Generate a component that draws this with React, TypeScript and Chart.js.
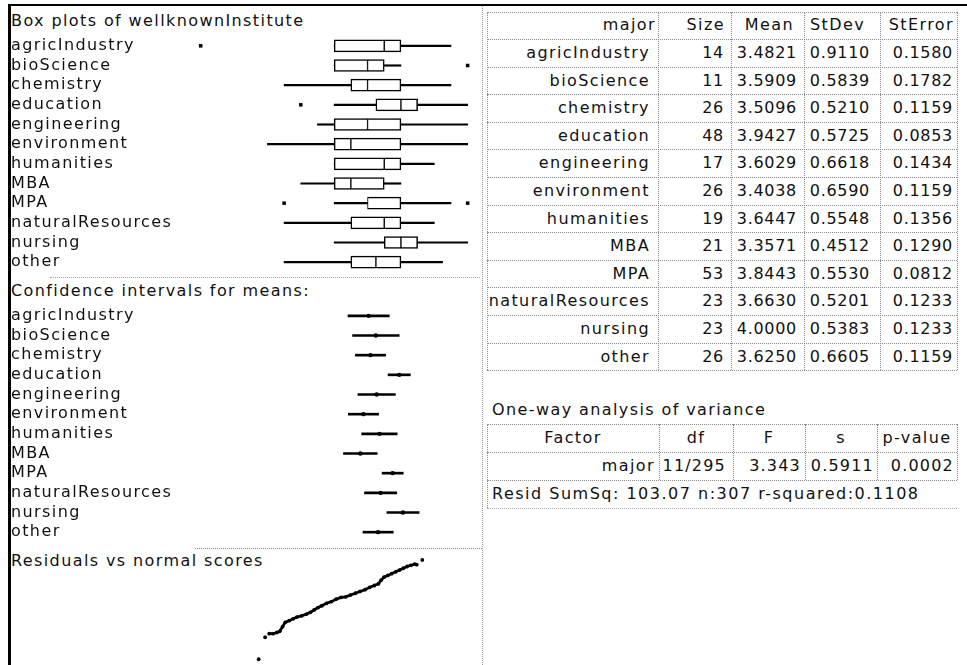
import React, { useEffect, useRef } from "react";
import { Chart, registerables } from "chart.js";

Chart.register(...registerables);

// ---------- data ----------
const categories = [
  "agricIndustry", "bioScience", "chemistry", "education", "engineering", "environment",
  "humanities", "MBA", "MPA", "naturalResources", "nursing", "other",
];

// box plots (GPA scale)
const boxMin = [3.2, 3.2, 2.9, 3.2, 3.1, 2.8, 3.2, 3.0, 3.2, 2.9, 3.2, 2.9];
const boxQ1 = [3.2, 3.2, 3.3, 3.45, 3.2, 3.2, 3.2, 3.2, 3.4, 3.3, 3.5, 3.3];
const boxMedian = [3.5, 3.4, 3.4, 3.6, 3.4, 3.3, 3.5, 3.3, 3.4, 3.5, 3.6, 3.45];
const boxQ3 = [3.6, 3.5, 3.6, 3.7, 3.6, 3.6, 3.6, 3.5, 3.6, 3.6, 3.7, 3.6];
const boxMax = [3.9, 3.6, 3.9, 4.0, 4.0, 4.0, 3.8, 3.6, 3.9, 3.8, 4.0, 3.85];
const outlierCategory = ["agricIndustry", "bioScience", "education", "MPA", "MPA"];
const outlierValue = [2.4, 4.0, 3.0, 2.9, 4.0];

// summary table
const sizes = [14, 11, 26, 48, 17, 26, 19, 21, 53, 23, 23, 26];
const means = [3.4821, 3.5909, 3.5096, 3.9427, 3.6029, 3.4038, 3.6447, 3.3571, 3.8443, 3.663, 4.0, 3.625];
const stDevs = [0.911, 0.5839, 0.521, 0.5725, 0.6618, 0.659, 0.5548, 0.4512, 0.553, 0.5201, 0.5383, 0.6605];
const stErrors = [0.158, 0.1782, 0.1159, 0.0853, 0.1434, 0.1159, 0.1356, 0.129, 0.0812, 0.1233, 0.1233, 0.1159];

// confidence intervals for means
const ciLow = [3.171, 3.240, 3.282, 3.775, 3.321, 3.176, 3.378, 3.103, 3.685, 3.420, 3.757, 3.397];
const ciHigh = [3.793, 3.942, 3.738, 4.111, 3.885, 3.632, 3.912, 3.611, 4.004, 3.906, 4.243, 3.853];

// residuals vs normal scores
const normalScores = [
  -2.8, -2.58, -2.44, -2.31, -2.18, -2.08, -1.98, -1.89, -1.75, -1.62, -1.49, -1.33, -1.16, -1.03,
  -0.9, -0.77, -0.64, -0.48, -0.31, -0.15, 0.02, 0.18, 0.34, 0.51, 0.67, 0.84, 1.0, 1.16, 1.3,
  1.39, 1.49, 1.62, 1.75, 1.89, 2.02, 2.15, 2.28, 2.41, 2.54, 2.61, 2.8,
];
const residuals = [
  -1.07, -0.7, -0.64, -0.64, -0.62, -0.6, -0.52, -0.45, -0.42, -0.39, -0.36, -0.34, -0.31, -0.28,
  -0.24, -0.2, -0.17, -0.13, -0.1, -0.06, -0.03, -0.02, 0.01, 0.04, 0.07, 0.1, 0.14, 0.17, 0.2,
  0.26, 0.31, 0.34, 0.37, 0.4, 0.43, 0.46, 0.49, 0.51, 0.53, 0.52, 0.6,
];

// ANOVA
const anovaHeaders = ["Factor", "df", "F", "s", "p-value"];
const anovaRow = ["major", "11/295", "3.343", "0.5911", "0.0002"];
const residLine = "Resid SumSq: 103.07 n:307 r-squared:0.1108";
const tableHeaders = ["major", "Size", "Mean", "StDev", "StError"];

// ---------- styling ----------
const FONT = '"DejaVu Sans", sans-serif';
const INK = "#111";

const spacingPlugin = {
  id: "letterSpacing",
  beforeDraw(chart: any) {
    try {
      chart.ctx.letterSpacing = "1.4px";
    } catch (e) {}
  },
};

function categoryOptions(min: number, max: number): any {
  return {
    indexAxis: "y",
    responsive: false,
    animation: false,
    events: [],
    layout: { padding: { left: 11, right: 0, top: 0, bottom: 0 } },
    plugins: { legend: { display: false }, tooltip: { enabled: false }, title: { display: false } },
    scales: {
      x: { type: "linear", min, max, display: false },
      y: {
        type: "category",
        offset: true,
        grid: { display: false, drawTicks: false },
        border: { display: false },
        ticks: {
          crossAlign: "far",
          padding: 0,
          autoSkip: false,
          color: INK,
          font: { family: "DejaVu Sans", size: 16 },
        },
        afterFit(scale: any) {
          scale.width = 173;
          scale.paddingTop = 0;
          scale.paddingBottom = 0;
        },
      },
    },
  };
}

function boxConfig(): any {
  const bar = (data: any, extra: any) => ({
    type: "bar",
    data,
    grouped: false,
    borderSkipped: false,
    ...extra,
  });
  return {
    type: "bar",
    data: {
      labels: categories,
      datasets: [
        bar(categories.map((_, i) => [boxMin[i], boxQ1[i]]), { backgroundColor: "#000", borderWidth: 0, barThickness: 1.5 }),
        bar(categories.map((_, i) => [boxQ3[i], boxMax[i]]), { backgroundColor: "#000", borderWidth: 0, barThickness: 1.5 }),
        bar(categories.map((_, i) => [boxQ1[i], boxMedian[i]]), {
          backgroundColor: "#fff",
          borderColor: "#000",
          borderWidth: { top: 1.5, bottom: 1.5, left: 1.5, right: 1 },
          barThickness: 12,
        }),
        bar(categories.map((_, i) => [boxMedian[i], boxQ3[i]]), {
          backgroundColor: "#fff",
          borderColor: "#000",
          borderWidth: { top: 1.5, bottom: 1.5, left: 1, right: 1.5 },
          barThickness: 12,
        }),
        {
          type: "scatter",
          data: outlierValue.map((v, i) => ({ x: v, y: outlierCategory[i] })),
          pointStyle: "rect",
          pointRadius: 2.5,
          backgroundColor: "#000",
          borderWidth: 0,
        },
      ],
    },
    options: categoryOptions(2.3, 4.05),
    plugins: [spacingPlugin],
  };
}

function ciConfig(): any {
  return {
    type: "bar",
    data: {
      labels: categories,
      datasets: [
        {
          type: "bar",
          data: categories.map((_, i) => [ciLow[i], ciHigh[i]]),
          grouped: false,
          backgroundColor: "#000",
          borderWidth: 0,
          barThickness: 2,
        },
        {
          type: "scatter",
          data: means.map((m, i) => ({ x: m, y: categories[i] })),
          pointRadius: 2.2,
          backgroundColor: "#000",
          borderWidth: 0,
        },
      ],
    },
    options: categoryOptions(0.7, 5.1),
    plugins: [spacingPlugin],
  };
}

function residConfig(): any {
  const pts = normalScores.map((s, i) => ({ x: s, y: residuals[i] }));
  return {
    type: "scatter",
    data: {
      datasets: [
        { data: pts, pointRadius: 1.9, backgroundColor: "#000", borderWidth: 0 },
        {
          type: "line",
          data: pts.slice(2, 40),
          borderColor: "#000",
          borderWidth: 2.7,
          pointRadius: 0,
          tension: 0,
          fill: false,
        },
      ],
    },
    options: {
      responsive: false,
      animation: false,
      events: [],
      layout: { padding: 0 },
      plugins: { legend: { display: false }, tooltip: { enabled: false } },
      scales: {
        x: { type: "linear", min: -3.2, max: 3.2, display: false },
        y: { type: "linear", min: -1.2, max: 0.7, display: false },
      },
    },
  };
}

function ChartCanvas(props: { left: number; top: number; width: number; height: number; make: () => any }) {
  const ref = useRef<HTMLCanvasElement | null>(null);
  useEffect(() => {
    const chart = new Chart(ref.current as HTMLCanvasElement, props.make());
    return () => chart.destroy();
  }, []);
  return (
    <canvas
      ref={ref}
      width={props.width}
      height={props.height}
      style={{ position: "absolute", left: props.left, top: props.top, width: props.width, height: props.height }}
    />
  );
}

const HLine = ({ x1, x2, y, c = "#8a8a8a" }: any) => (
  <div style={{ position: "absolute", left: x1, top: y, width: x2 - x1, height: 0, borderTop: `1px dotted ${c}` }} />
);
const VLine = ({ x, y1, y2, c = "#8a8a8a" }: any) => (
  <div style={{ position: "absolute", left: x, top: y1, width: 0, height: y2 - y1, borderLeft: `1px dotted ${c}` }} />
);

const textBase: any = {
  position: "absolute",
  fontFamily: FONT,
  fontSize: 16,
  color: INK,
  whiteSpace: "nowrap",
};

function Cell({ x1, x2, y, h, text, pad = 6, align = "right", spacing = 1.4 }: any) {
  return (
    <div
      style={{
        ...textBase,
        left: x1,
        top: y,
        width: x2 - x1,
        height: h,
        lineHeight: `${h}px`,
        textAlign: align,
        paddingRight: align === "right" ? pad : 0,
        boxSizing: "border-box",
        letterSpacing: `${spacing}px`,
      }}
    >
      {text}
    </div>
  );
}

export default function App() {
  // main table geometry
  const colX = [487, 658, 731, 804, 880, 957];
  const tTop = 12;
  const headH = 27;
  const rowH = 27.6;
  const rowTops = categories.map((_, i) => tTop + headH + i * rowH);
  const tBottom = tTop + headH + categories.length * rowH;
  const headPads = [2, 6, 10, 15, 3];
  const dataPads = [8, 7, 7, 10, 4];

  // anova geometry
  const aX = [487, 659, 733, 805, 877, 957];
  const aTop = 424;
  const aH = 28;
  const aPads = [4, 7, 4, 3, 3];

  const rows = categories.map((c, i) => [
    c,
    String(sizes[i]),
    means[i].toFixed(4),
    stDevs[i].toFixed(4),
    stErrors[i].toFixed(4),
  ]);

  return (
    <div
      style={{
        position: "fixed",
        left: 0,
        top: 0,
        width: 967,
        height: 665,
        overflow: "hidden",
        background: "#fff",
      }}
    >
      {/* titles */}
      <div style={{ ...textBase, left: 11, top: 11, lineHeight: "20px", letterSpacing: "1.4px" }}>
        Box plots of wellknownInstitute
      </div>
      <div style={{ ...textBase, left: 11, top: 281, lineHeight: "20px", letterSpacing: "1.4px" }}>
        Confidence intervals for means:
      </div>
      <div style={{ ...textBase, left: 11, top: 551, lineHeight: "20px", letterSpacing: "1.4px" }}>
        Residuals vs normal scores
      </div>

      {/* charts */}
      <ChartCanvas left={0} top={32} width={480} height={244} make={boxConfig} />
      <ChartCanvas left={0} top={302} width={480} height={244} make={ciConfig} />
      <ChartCanvas left={243} top={550} width={195} height={121} make={residConfig} />

      {/* separators in left panel */}
      <HLine x1={50} x2={480} y={277} c="#aaa" />
      <HLine x1={195} x2={482} y={548} c="#888" />

      {/* panel divider */}
      <VLine x={482} y1={6} y2={665} c="#999" />

      {/* main table */}
      <HLine x1={colX[0]} x2={colX[5]} y={tTop} />
      <HLine x1={colX[0]} x2={colX[5]} y={tTop + headH} />
      {rowTops.map((t, i) => (
        <HLine key={"h" + i} x1={colX[0]} x2={colX[5]} y={t + rowH} />
      ))}
      {colX.map((x, i) => (
        <VLine key={"v" + i} x={x} y1={tTop} y2={tBottom} />
      ))}
      {tableHeaders.map((h, j) => (
        <Cell key={"th" + j} x1={colX[j]} x2={colX[j + 1]} y={tTop - 1} h={headH} text={h} pad={headPads[j]} />
      ))}
      {rows.map((r, i) =>
        r.map((v, j) => (
          <Cell
            key={"td" + i + "-" + j}
            x1={colX[j]}
            x2={colX[j + 1]}
            y={rowTops[i]}
            h={rowH}
            text={v}
            pad={dataPads[j]}
            spacing={j === 0 ? 1.4 : 0.7}
          />
        ))
      )}

      {/* ANOVA */}
      <div style={{ ...textBase, left: 492, top: 400, lineHeight: "20px", letterSpacing: "1.4px" }}>
        One-way analysis of variance
      </div>
      <HLine x1={aX[0]} x2={aX[5]} y={aTop} />
      <HLine x1={aX[0]} x2={aX[5]} y={aTop + aH} />
      <HLine x1={aX[0]} x2={aX[5]} y={aTop + 2 * aH} />
      <HLine x1={aX[0]} x2={aX[5]} y={aTop + 3 * aH} c="#aaa" />
      {aX.map((x, i) => (
        <VLine key={"av" + i} x={x} y1={aTop} y2={aTop + 2 * aH} />
      ))}
      <VLine x={aX[0]} y1={aTop + 2 * aH} y2={aTop + 3 * aH} />
      {anovaHeaders.map((h, j) => (
        <Cell key={"ah" + j} x1={aX[j]} x2={aX[j + 1]} y={aTop} h={aH} text={h} align="center" />
      ))}
      {anovaRow.map((v, j) => (
        <Cell key={"ar" + j} x1={aX[j]} x2={aX[j + 1]} y={aTop + aH} h={aH} text={v} pad={aPads[j]} spacing={j === 0 ? 1.4 : 1.2} />
      ))}
      <div style={{ ...textBase, left: 492, top: aTop + 2 * aH, lineHeight: `${aH}px`, letterSpacing: "1.5px" }}>
        {residLine}
      </div>

      {/* page frame lines */}
      <div style={{ position: "absolute", left: 8, top: 4, width: 959, height: 2, background: "#000" }} />
      <div style={{ position: "absolute", left: 8, top: 4, width: 2.5, height: 661, background: "#000" }} />
    </div>
  );
}
